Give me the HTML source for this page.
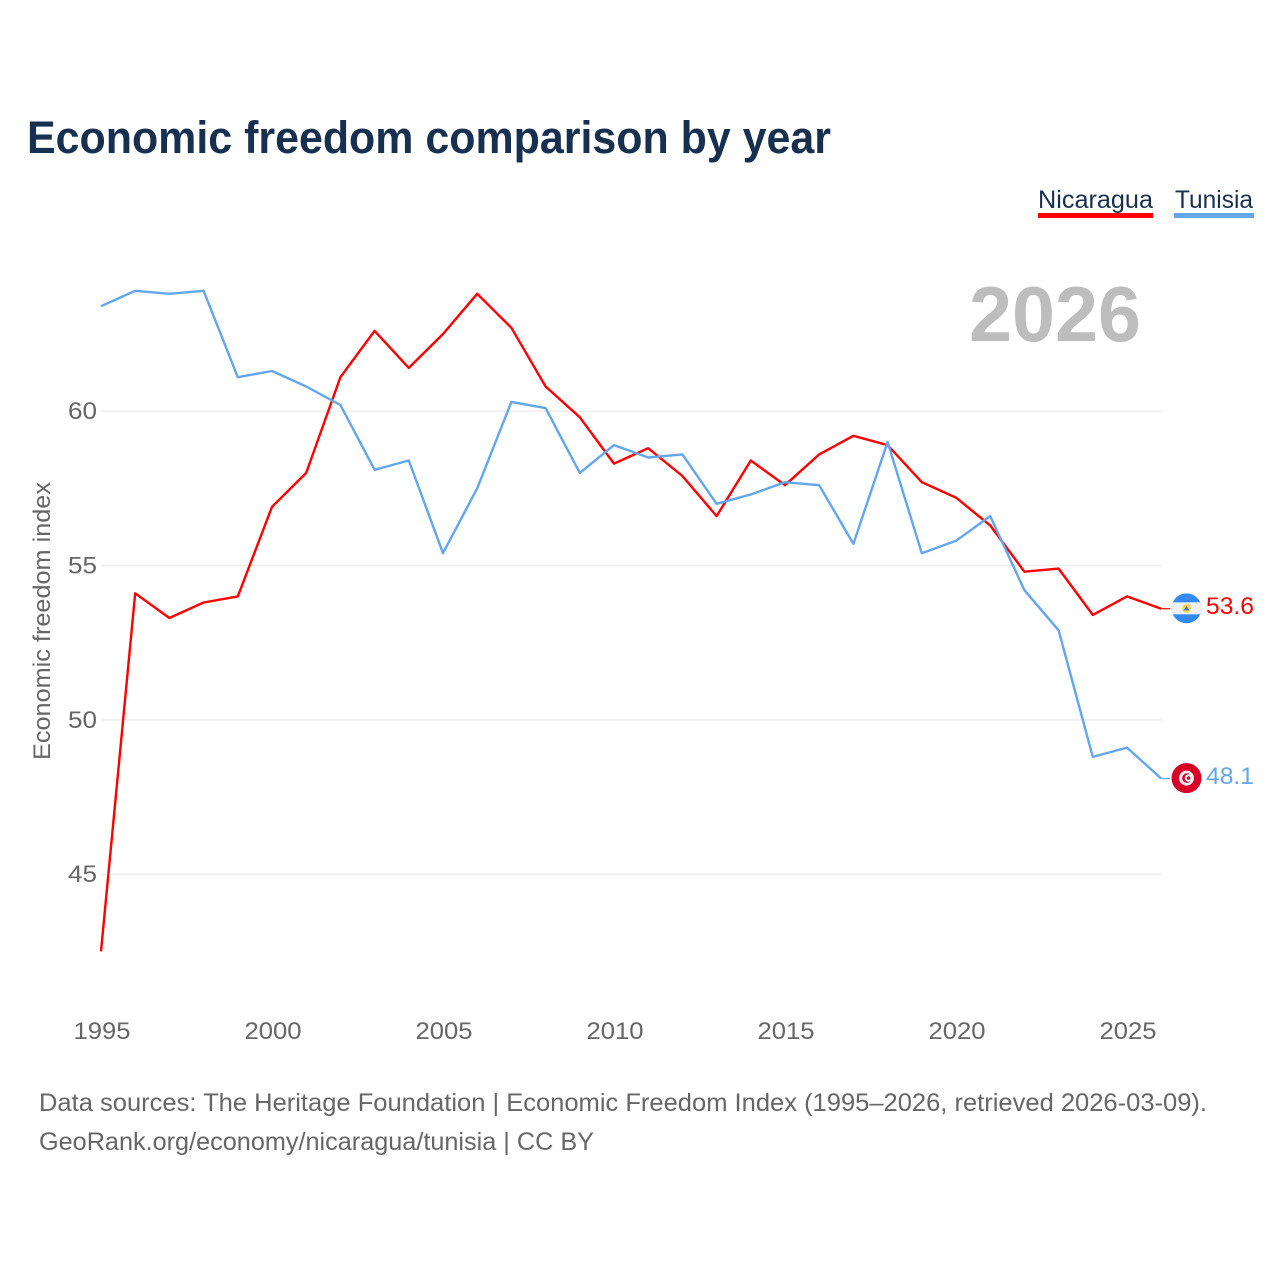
<!DOCTYPE html>
<html lang="en">
<head>
<meta charset="utf-8">
<title>Economic freedom comparison by year</title>
<style>
  html, body { margin: 0; padding: 0; background: #fff; }
  svg { display: block; }
  text { font-family: "Liberation Sans", sans-serif; }
</style>
</head>
<body>
<svg id="chart" xmlns="http://www.w3.org/2000/svg" width="1280" height="1280" viewBox="0 0 1280 1280">
  <rect x="0" y="0" width="1280" height="1280" fill="#ffffff"/>
  <text x="27" y="153" font-size="45" font-weight="700" fill="#18304f" textLength="804" lengthAdjust="spacingAndGlyphs">Economic freedom comparison by year</text>

  <g>
    <text x="1038" y="208" font-size="25" fill="#18304f" textLength="115" lengthAdjust="spacingAndGlyphs">Nicaragua</text>
    <rect x="1038" y="213" width="115" height="5" fill="#ff0000"/>
  </g>
  <g>
    <text x="1175" y="208" font-size="25" fill="#18304f" textLength="78" lengthAdjust="spacingAndGlyphs">Tunisia</text>
    <rect x="1174" y="213" width="80" height="5" fill="#62a6ee"/>
  </g>

  <text x="969" y="341" font-size="78" font-weight="700" fill="#bdbdbd" textLength="172" lengthAdjust="spacingAndGlyphs">2026</text>

  <g id="grid"></g>
  <g id="y-ticks"></g>
  <g id="x-ticks"></g>

  <text transform="translate(50 621) rotate(-90)" text-anchor="middle" font-size="24" fill="#666666" textLength="278" lengthAdjust="spacingAndGlyphs">Economic freedom index</text>

  <g id="series"></g>

  <defs>
    <clipPath id="clip-nic"><circle id="clip-nic-circle" cx="0" cy="0" r="15"/></clipPath>
  </defs>
  <g id="flag-nicaragua">
    <g clip-path="url(#clip-nic)">
      <rect x="-15" y="-15" width="30" height="30" fill="#338af3"/>
      <rect x="-15" y="-6" width="30" height="12" fill="#f0f0f0"/>
    </g>
    <circle cx="0" cy="0" r="4.5" fill="#ffda44"/>
    <path d="M0 -2.5 L3 2 L-3 2 Z" fill="#2e7fd8"/>
  </g>
  <g id="flag-tunisia">
    <circle cx="0" cy="0" r="15" fill="#d80027"/>
    <circle cx="0" cy="0" r="7.5" fill="#f0f0f0"/>
    <circle cx="0.5" cy="0" r="4.8" fill="#d80027"/>
    <circle cx="2" cy="0" r="3.8" fill="#f0f0f0"/>
    <circle cx="2" cy="0" r="1.7" fill="#d80027"/>
  </g>

  <text id="end-nicaragua" x="1254" font-size="24" fill="#ff0000" text-anchor="end" textLength="48" lengthAdjust="spacingAndGlyphs"></text>
  <text id="end-tunisia" x="1254" font-size="24" fill="#62a6ee" text-anchor="end" textLength="48" lengthAdjust="spacingAndGlyphs"></text>

  <text x="39" y="1111" font-size="25" fill="#666666" textLength="1168" lengthAdjust="spacingAndGlyphs">Data sources: The Heritage Foundation | Economic Freedom Index (1995–2026, retrieved 2026-03-09).</text>
  <text x="39" y="1150" font-size="25" fill="#666666" textLength="555" lengthAdjust="spacingAndGlyphs">GeoRank.org/economy/nicaragua/tunisia | CC BY</text>
</svg>

<script>
const years = [1995,1996,1997,1998,1999,2000,2001,2002,2003,2004,2005,2006,2007,2008,2009,2010,2011,2012,2013,2014,2015,2016,2017,2018,2019,2020,2021,2022,2023,2024,2025,2026];
const nicaragua = [42.5,54.1,53.3,53.8,54.0,56.9,58.0,61.1,62.6,61.4,62.5,63.8,62.7,60.8,59.8,58.3,58.8,57.9,56.6,58.4,57.6,58.6,59.2,58.9,57.7,57.2,56.3,54.8,54.9,53.4,54.0,53.6];
const tunisia = [63.4,63.9,63.8,63.9,61.1,61.3,60.8,60.2,58.1,58.4,55.4,57.5,60.3,60.1,58.0,58.9,58.5,58.6,57.0,57.3,57.7,57.6,55.7,59.0,55.4,55.8,56.6,54.2,52.9,48.8,49.1,48.1];
const yTicks = [60,55,50,45];
const xTicks = [1995,2000,2005,2010,2015,2020,2025];

const NS = 'http://www.w3.org/2000/svg';
const xScale = (v) => 101 + (v - 1995) * 34.2;
const yScale = (v) => 874.2 - (v - 45) * 30.87;
const plotRight = xScale(2026) + 0.5;

const make = (tag, attrs, parent) => {
  const el = document.createElementNS(NS, tag);
  Object.keys(attrs).forEach((k) => el.setAttribute(k, attrs[k]));
  parent.appendChild(el);
  return el;
};

const gridG = document.getElementById('grid');
const yG = document.getElementById('y-ticks');
yTicks.forEach((t) => {
  const line = make('line', { x1: xScale(1995), x2: plotRight, y1: yScale(t), y2: yScale(t), stroke: '#eeeeee', 'stroke-width': 1.5 }, gridG);
  
  
  const label = make('text', { x: 97, y: yScale(t) + 8, 'text-anchor': 'end', 'font-size': 24, fill: '#666666', textLength: 29, lengthAdjust: 'spacingAndGlyphs' }, yG);
  label.textContent = t;
  
  
});

const xG = document.getElementById('x-ticks');
xTicks.forEach((t) => {
  const label = make('text', { x: xScale(t) + 1, y: 1039, 'text-anchor': 'middle', 'font-size': 24, fill: '#666666', textLength: 57, lengthAdjust: 'spacingAndGlyphs' }, xG);
  label.textContent = t;
  
  
});

const seriesG = document.getElementById('series');
const drawSeries = (values, color, key) => {
  const pts = values.map((v, i) => xScale(years[i]).toFixed(1) + ',' + yScale(v).toFixed(1)).join(' ');
  const line = make('polyline', { points: pts, fill: 'none', stroke: color, 'stroke-width': 2.4, 'stroke-linejoin': 'round' }, seriesG);
  
  
  const last = values[values.length - 1];
  const lastX = xScale(years[years.length - 1]);
  const conn = make('line', { x1: lastX, x2: lastX + 9, y1: yScale(last), y2: yScale(last), stroke: color, 'stroke-width': 1.2 }, seriesG);
  
  
  const flag = document.getElementById('flag-' + key);
  flag.setAttribute('transform', 'translate(1186.5 ' + (yScale(last) - 0.4) + ')');
  const txt = document.getElementById('end-' + key);
  txt.setAttribute('y', yScale(last) + 5.5);
  txt.textContent = last.toFixed(1);
};
drawSeries(nicaragua, '#ff0000', 'nicaragua');
drawSeries(tunisia, '#62a6ee', 'tunisia');
</script>
</body>
</html>
